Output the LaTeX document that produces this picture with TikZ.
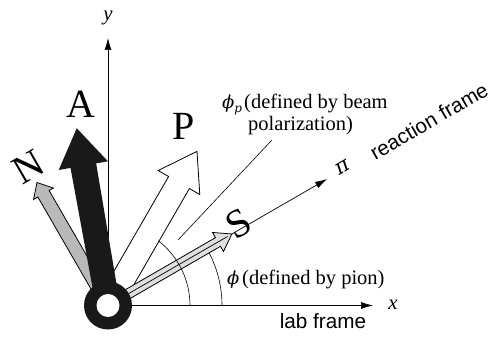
\documentclass[tikz,border=0pt]{standalone}
\usepackage{fontspec}
\setmainfont{Liberation Serif}
\newfontfamily\labsans{Liberation Sans}
\newfontfamily\grk{DejaVu Serif}
\usetikzlibrary{arrows.meta,calc}
\begin{document}
\begin{tikzpicture}[x=1pt,y=1pt,
  axisline/.style={line width=0.7pt, -{Latex[length=12pt,width=7pt]}},
  thinline/.style={line width=0.6pt},
  outl/.style={line width=0.8pt, line join=miter},
  txt/.style={font=\fontsize{20.5pt}{25pt}\selectfont, inner sep=0pt},
  grktxt/.style={font=\grk\itshape\fontsize{18pt}{23pt}\selectfont, inner sep=0pt},
  sanstxt/.style={font=\labsans\fontsize{20.7pt}{25pt}\selectfont, inner sep=0pt},
  bigtxt/.style={font=\fontsize{40pt}{44pt}\selectfont, inner sep=0pt},
]
\useasboundingbox (0,0) rectangle (496,339);
\coordinate (O) at (108,33.5);
\coordinate (ytip) at (108,301);
\coordinate (xtip) at (373,33.5);
\coordinate (pitip) at (327.1,160);
\coordinate (leadA) at (178,99);
\coordinate (leadB) at (272,199);

% axes
\draw[axisline] (O) -- (xtip);
\draw[axisline] (O) -- (ytip);
\draw[axisline] (O) -- (pitip);

% P arrow (hollow)
\begin{scope}[shift={(O)}, rotate=60]
  \draw[outl, fill=white] (0,-12) -- (142,-12) -- (142,-24) -- (178,0) -- (142,24) -- (142,12) -- (0,12) -- cycle;
\end{scope}
% N arrow (grey)
\begin{scope}[shift={(O)}, rotate=120]
  \draw[outl, fill=gray!55] (0,-6.5) -- (129,-6.5) -- (129,-11.5) -- (142,0) -- (129,11.5) -- (129,6.5) -- (0,6.5) -- cycle;
\end{scope}
% A arrow (black)
\begin{scope}[shift={(O)}, rotate=100]
  \fill[black!90, line join=miter] (0,-12) -- (142,-13) -- (142,-25) -- (180,0) -- (142,25) -- (142,13) -- (0,12) -- cycle;
\end{scope}
% S arrow (grey, double)
\begin{scope}[shift={(O)}, rotate=30]
  \draw[outl, fill=gray!25] (0,-5) -- (127,-5) -- (127,-11) -- (143,0) -- (127,11) -- (127,5) -- (0,5) -- cycle;
  \draw[line width=0.7pt] (0,0) -- (138,0);
\end{scope}

% angle arcs and leader
\draw[thinline] ($(O)+(82,0)$) arc[start angle=0, end angle=52, radius=82];
\draw[thinline] ($(O)+(114,0)$) arc[start angle=0, end angle=27.5, radius=114];
\draw[thinline] (leadA) -- (leadB);

% origin ring
\fill[black!90] (O) circle (24);
\fill[white] (O) circle (11.5);

% labels
\node[txt, font=\itshape\fontsize{20.8pt}{25pt}\selectfont] (ylab) at (108,321) {y};
\node[txt, font=\itshape\fontsize{20.8pt}{25pt}\selectfont] (xlab) at (393,34) {x};
\node[grktxt, font=\grk\itshape\fontsize{21pt}{25pt}\selectfont, rotate=30] (pilab) at (343,172) {π};
\node[sanstxt, rotate=30] (reac) at (429,218) {reaction frame};
\node[sanstxt, anchor=base] (lab) at (323,10) {lab frame};
\node[grktxt, anchor=base west] (phip) at (222,230) {ϕ\raisebox{-4pt}{\fontsize{12pt}{14pt}\selectfont p}};
\node[txt, anchor=base west] (phipa) at (244,230) {(defined by beam};
\node[txt, anchor=base west] (phipb) at (248,208) {polarization)};
\node[grktxt, anchor=base west] (phi) at (227,54) {ϕ};
\node[txt, anchor=base west] (phia) at (242,54) {(defined by pion)};
\node[bigtxt, anchor=base] (Alab) at (81,221) {A};
\node[bigtxt] (Plab) at (184,213) {P};
\node[bigtxt, rotate=30] (Nlab) at (28,172) {N};
\node[bigtxt, rotate=30] (Slab) at (239,115) {S};
\end{tikzpicture}
\end{document}
